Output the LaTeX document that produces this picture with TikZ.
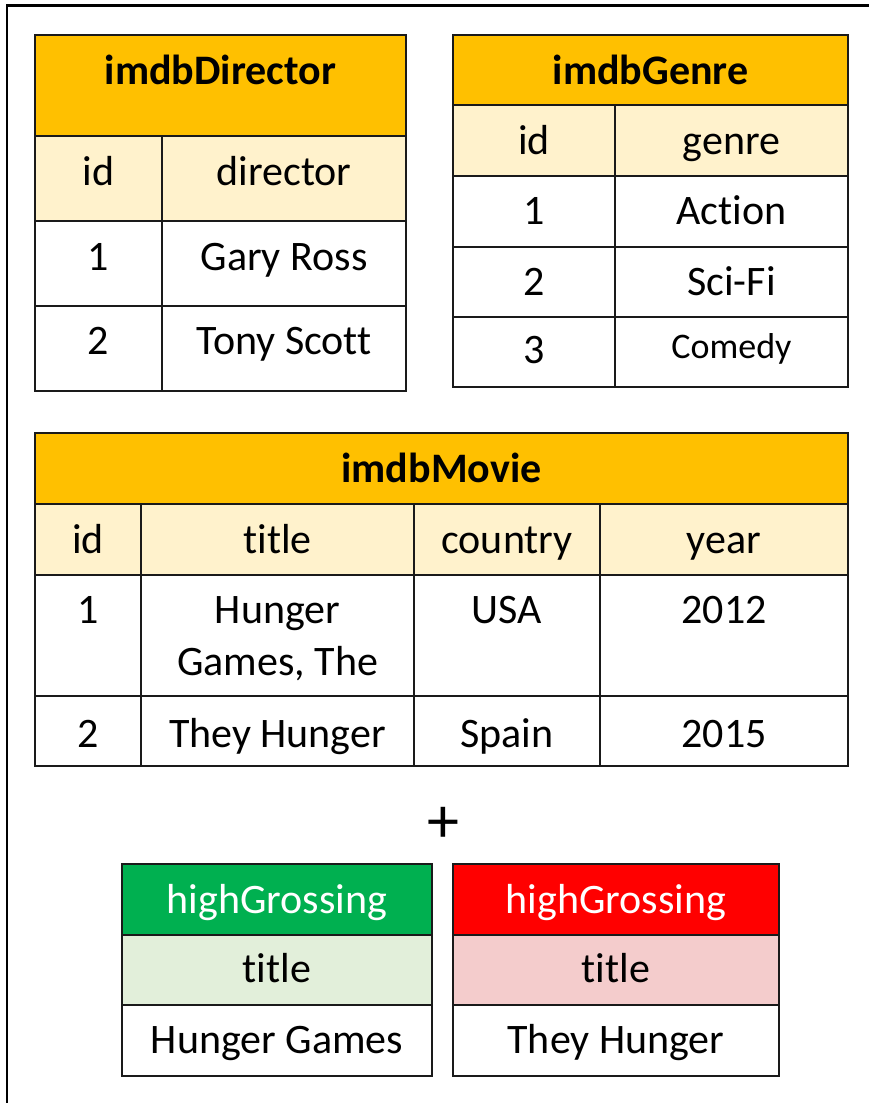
\documentclass[tikz,border=0pt]{standalone}
\usepackage{fontspec}
\setmainfont{Carlito}[Ligatures={NoCommon}]
\definecolor{hdr}{HTML}{FFC000}
\definecolor{sub}{HTML}{FFF2CC}
\definecolor{grn}{HTML}{00B050}
\definecolor{lgrn}{HTML}{E2EFDA}
\definecolor{rd}{HTML}{FF0000}
\definecolor{lrd}{HTML}{F4CCCC}
\definecolor{ln}{HTML}{1A1A1A}
\tikzset{
  cellst/.style={draw=ln, line width=2pt, rectangle, inner sep=0pt, outer sep=0pt, anchor=north west},
  txtst/.style={inner sep=0pt, outer sep=0pt, anchor=base, font=\fontsize{42}{52}\selectfont, align=center},
  frame/.style={draw=black, line width=2.6pt}
}
% name, x, y, w, h, fill, baseline offset, text
\def\mycell#1#2#3#4#5#6#7#8{%
  \node[cellst, fill=#6, minimum width=#4pt, minimum height=#5pt] (#1) at (#2,#3) {};
  \node[txtst] (#1t) at ([yshift=-#7pt]#1.north) {#8};
}
\begin{document}
\begin{tikzpicture}[x=1pt,y=-1pt]
\useasboundingbox (0,0) rectangle (869,1103);
% outer frame (partly outside picture)
\draw[frame] (7,1110) -- (7,5.5) -- (880,5.5);

% imdbDirector
\mycell{dh}{35}{35}{371}{101}{hdr}{49}{\textbf{imdbDirector}}
\mycell{d00}{35}{136}{127}{85}{sub}{49}{id}
\mycell{d01}{162}{136}{244}{85}{sub}{49}{director}
\mycell{d10}{35}{221}{127}{85}{white}{49}{1}
\mycell{d11}{162}{221}{244}{85}{white}{49}{Gary Ross}
\mycell{d20}{35}{306}{127}{85}{white}{48}{2}
\mycell{d21}{162}{306}{244}{85}{white}{48}{Tony Scott}

% imdbGenre
\mycell{gh}{453}{35}{395}{70}{hdr}{49}{\textbf{imdbGenre}}
\mycell{g00}{453}{105}{162}{71}{sub}{49}{id}
\mycell{g01}{615}{105}{233}{71}{sub}{49}{genre}
\mycell{g10}{453}{176}{162}{71}{white}{48}{1}
\mycell{g11}{615}{176}{233}{71}{white}{48}{Action}
\mycell{g20}{453}{247}{162}{70}{white}{48}{2}
\mycell{g21}{615}{247}{233}{70}{white}{48}{Sci-Fi}
\mycell{g30}{453}{317}{162}{70}{white}{46}{3}
\mycell{g31}{615}{317}{233}{70}{white}{41}{\fontsize{36}{44}\selectfont Comedy}

% imdbMovie
\mycell{mh}{35}{433}{813}{71}{hdr}{49}{\textbf{imdbMovie}}
\mycell{m00}{35}{504}{106}{71}{sub}{49}{id}
\mycell{m01}{141}{504}{273}{71}{sub}{49}{title}
\mycell{m02}{414}{504}{186}{71}{sub}{49}{country}
\mycell{m03}{600}{504}{248}{71}{sub}{49}{year}
\mycell{m10}{35}{575}{106}{121}{white}{48}{1}
\mycell{m11}{141}{575}{273}{121}{white}{100}{Hunger\\Games, The}
\mycell{m12}{414}{575}{186}{121}{white}{48}{USA}
\mycell{m13}{600}{575}{248}{121}{white}{48}{2012}
\mycell{m20}{35}{696}{106}{70}{white}{51}{2}
\mycell{m21}{141}{696}{273}{70}{white}{51}{They Hunger}
\mycell{m22}{414}{696}{186}{70}{white}{51}{Spain}
\mycell{m23}{600}{696}{248}{70}{white}{51}{2015}

% plus
\node[inner sep=0pt, font=\fontsize{64}{66}\selectfont] (plus) at (443,825) {+};

% highGrossing green
\mycell{ah}{122}{864}{310}{71}{grn}{49}{\color{white}highGrossing}
\mycell{a0}{122}{935}{310}{70}{lgrn}{47}{title}
\mycell{a1}{122}{1005}{310}{71}{white}{48}{Hunger Games}

% highGrossing red
\mycell{bh}{453}{864}{326}{71}{rd}{49}{\color{white}highGrossing}
\mycell{b0}{453}{935}{326}{70}{lrd}{47}{title}
\mycell{b1}{453}{1005}{326}{71}{white}{48}{They Hunger}
\end{tikzpicture}
\end{document}
